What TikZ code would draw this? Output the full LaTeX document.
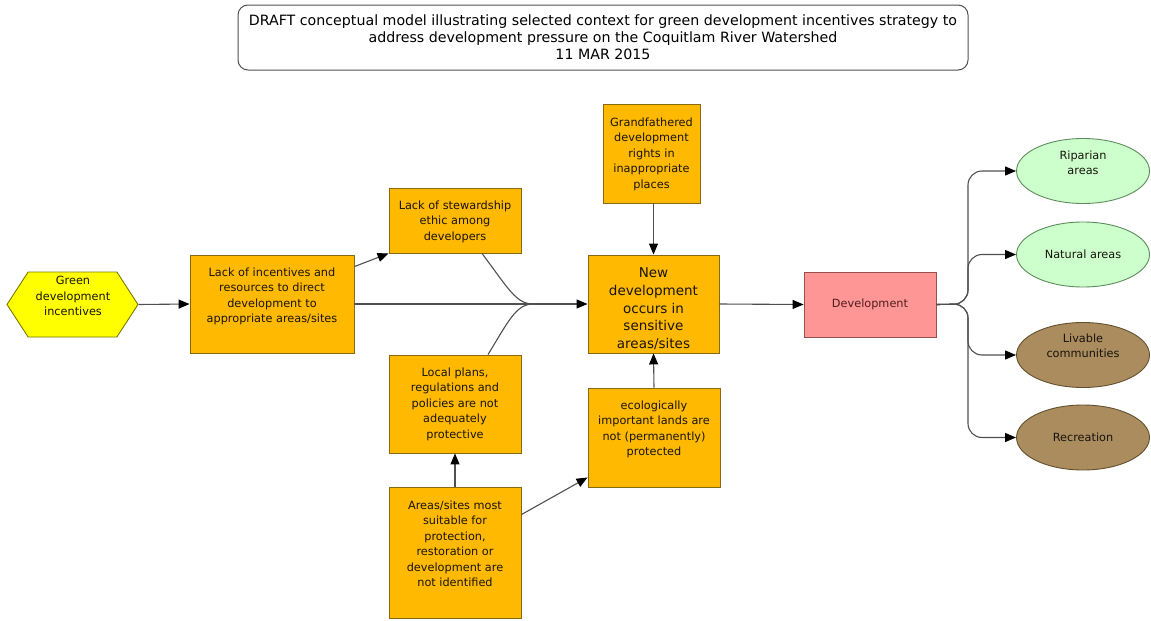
\documentclass[tikz,border=0pt]{standalone}
\usepackage{fontspec}
\setmainfont{DejaVu Sans}
\usetikzlibrary{arrows.meta,shapes.geometric,shapes.symbols}

\definecolor{linegray}{RGB}{80,80,80}
\definecolor{boxorange}{RGB}{255,185,0}
\definecolor{boxedge}{RGB}{135,105,20}
\definecolor{hexfill}{RGB}{255,255,0}
\definecolor{hexedge}{RGB}{120,120,0}
\definecolor{devfill}{RGB}{255,150,150}
\definecolor{devedge}{RGB}{150,80,80}
\definecolor{greenfill}{RGB}{204,255,204}
\definecolor{greenedge}{RGB}{95,140,95}
\definecolor{brownfill}{RGB}{170,140,95}
\definecolor{brownedge}{RGB}{100,80,45}
\definecolor{textdark}{RGB}{25,20,10}

\tikzset{
  conn/.style={draw=linegray, line width=1.1pt},
  arr/.style={conn, -{Triangle[length=11pt,width=9pt,color=black]}},
  obox/.style={draw=boxedge, fill=boxorange, line width=0.9pt, inner sep=0pt},
  txt/.style={font=\fontsize{11.3}{15.5}\selectfont, align=center, inner sep=0pt, text=textdark},
  bigtxt/.style={font=\fontsize{13.5}{17.8}\selectfont, align=center, inner sep=0pt, text=textdark},
  greenell/.style={ellipse, draw=greenedge, fill=greenfill, line width=0.9pt, minimum width=133pt, minimum height=65pt, inner sep=0pt},
  brownell/.style={ellipse, draw=brownedge, fill=brownfill, line width=0.9pt, minimum width=133pt, minimum height=65pt, inner sep=0pt},
}

\begin{document}
\begin{tikzpicture}[x=1pt,y=-1pt]
\useasboundingbox[fill=white] (0,0) rectangle (1151,621);

% title
\node[draw=linegray, line width=1pt, rounded corners=10pt, minimum width=730pt, minimum height=65pt,
      font=\fontsize{14.2}{17}\selectfont, align=center, text=black, inner sep=0pt] (title) at (603,37.5)
  {DRAFT conceptual model illustrating selected context for green development incentives strategy to\\
   address development pressure on the Coquitlam River Watershed\\
   11 MAR 2015};

% driver
\node[signal, signal to=east and west, signal pointer angle=114, draw=hexedge, fill=hexfill, line width=0.9pt,
      minimum width=131pt, minimum height=65pt, inner sep=0pt] (hex) at (72.5,304.5) {};
\node[txt] (hext) at (73,296) {Green\\development\\incentives};

% orange factor boxes
\node[obox, minimum width=164pt, minimum height=98pt] (b1) at (272,304) {};
\node[txt, anchor=north] (b1t) at ([yshift=-13pt]b1.north) {Lack of incentives and\\resources to direct\\development to\\appropriate areas/sites};

\node[obox, minimum width=132pt, minimum height=65pt] (stew) at (455,220.5) {};
\node[txt, anchor=north] (stewt) at ([yshift=-13pt]stew.north) {Lack of stewardship\\ethic among\\developers};

\node[obox, minimum width=132pt, minimum height=98pt] (local) at (455,404) {};
\node[txt, anchor=north] (localt) at ([yshift=-13pt]local.north) {Local plans,\\regulations and\\policies are not\\adequately\\protective};

\node[obox, minimum width=132pt, minimum height=131pt] (areas) at (455,552.5) {};
\node[txt, anchor=north] (areast) at ([yshift=-14pt]areas.north) {Areas/sites most\\suitable for\\protection,\\restoration or\\development are\\not identified};

\node[obox, minimum width=131pt, minimum height=98pt] (nd) at (653.5,304) {};
\node[bigtxt, anchor=north] (ndt) at ([yshift=-13pt]nd.north) {New\\development\\occurs in\\sensitive\\areas/sites};

\node[obox, minimum width=97pt, minimum height=99pt] (grand) at (651.5,153.5) {};
\node[txt, anchor=north] (grandt) at ([yshift=-14pt]grand.north) {Grandfathered\\development\\rights in\\inappropriate\\places};

\node[obox, minimum width=132pt, minimum height=99pt] (eco) at (654,437.5) {};
\node[txt, anchor=north] (ecot) at ([yshift=-13pt]eco.north) {ecologically\\important lands are\\not (permanently)\\protected};

% development
\node[draw=devedge, fill=devfill, line width=0.9pt, minimum width=132pt, minimum height=65pt,
      font=\fontsize{11.3}{15.5}\selectfont, text={rgb,255:red,80;green,30;blue,30}] (dev) at (870,304.5) {Development};

% outcomes
\node[greenell] (rip) at (1083,171) {};
\node[txt] (ript) at (1083,163) {Riparian\\areas};
\node[greenell] (nat) at (1083,254.5) {};
\node[txt] (natt) at (1083,254.5) {Natural areas};
\node[brownell] (liv) at (1083,355) {};
\node[txt] (livt) at (1083,346) {Livable\\communities};
\node[brownell] (rec) at (1083,437.5) {};
\node[txt] (rect) at (1083,437.5) {Recreation};

% connectors
\coordinate (merge) at (533,304);
\coordinate (trunk) at (968,304);

\draw[arr] (hex.east) -- (b1.west);
\draw[arr] (b1.east) -- (nd.west);
\draw[arr] ([yshift=-12pt]b1.north east) -- (stew.south west);
\draw[conn] ([xshift=27pt]stew.south) .. controls (508,288) and (516,304) .. (merge);
\draw[conn] ([xshift=33pt]local.north) .. controls (508,322) and (516,304) .. (merge);
\draw[arr] (areas.north) -- (local.south);
\draw[arr] ([yshift=-28pt]areas.north east) -- ([yshift=10pt]eco.south west);
\draw[arr] (grand.south -| nd.north) -- (nd.north);
\draw[arr] (eco.north) -- (nd.south);
\draw[arr] (nd.east) -- (dev.west);

\draw[arr, rounded corners=14pt] (dev.east) -- (trunk) |- (rip.west);
\draw[arr, rounded corners=14pt] (dev.east) -- (trunk) |- (nat.west);
\draw[arr, rounded corners=14pt] (dev.east) -- (trunk) |- (liv.west);
\draw[arr, rounded corners=14pt] (dev.east) -- (trunk) |- (rec.west);
\end{tikzpicture}
\end{document}
